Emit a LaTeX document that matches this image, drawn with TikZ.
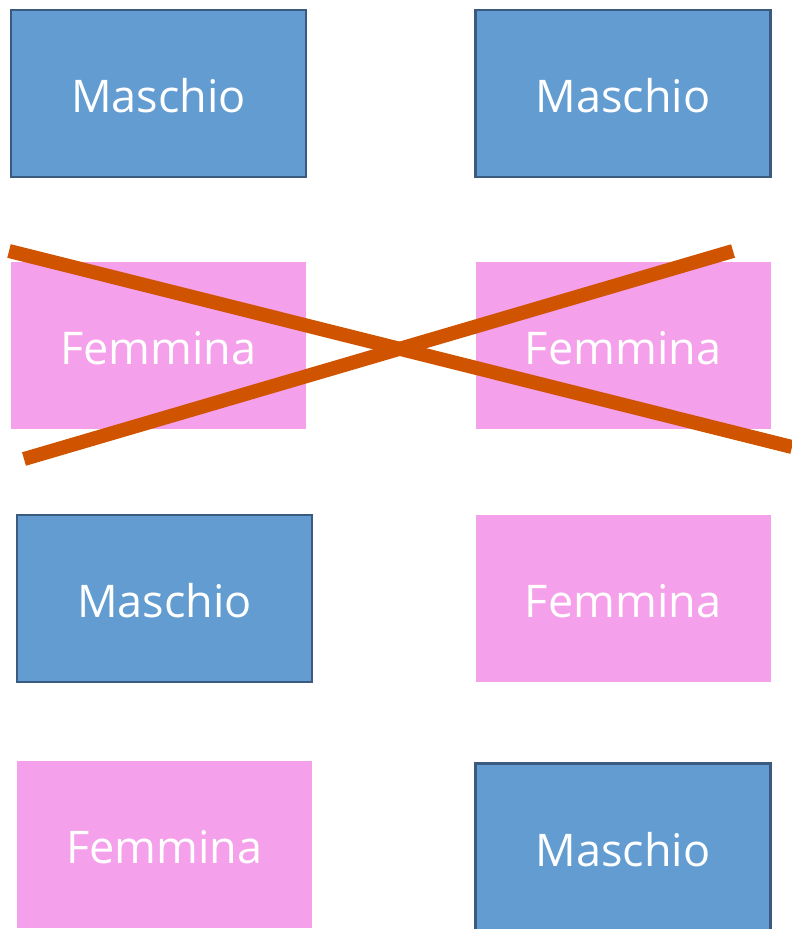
\documentclass[tikz,border=0pt]{standalone}
\usepackage{fontspec}
\setmainfont{Open Sans}
\usepackage{tikz}

\definecolor{boyfill}{HTML}{629CD1}
\definecolor{boyline}{HTML}{3A5A80}
\definecolor{girlfill}{HTML}{F5A0EB}
\definecolor{crossline}{HTML}{D05400}

\begin{document}
\begin{tikzpicture}[x=1pt,y=-1pt]
 \tikzstyle{card} = [minimum width=295pt,minimum height=167pt,inner sep=0pt,text height=42pt,text depth=4pt,text=white,font=\fontsize{45}{54}\selectfont]
 \tikzstyle{maschio} = [card,fill=boyfill,draw=boyline,line width=2.5pt]
 \tikzstyle{femmina} = [card,fill=girlfill]
 \tikzstyle{cancel} = [crossline,line width=14pt]

  \useasboundingbox (0,0) rectangle (792,929);

  % first pair
  \node[maschio] (m1) at (158.5,93.5) {Maschio};
  \node[maschio] (m2) at (623,93.5) {Maschio};

  % pair that is ruled out
  \node[femmina] (f1) at (158.5,345) {Femmina};
  \node[femmina] (f2) at (623,345) {Femmina};

  % mixed pairs
  \node[maschio] (m3) at (164.5,598.5) {Maschio};
  \node[femmina] (f3) at (623,598.5) {Femmina};
  \node[femmina] (f4) at (164.5,844.5) {Femmina};
  \node[maschio] (m4) at (623,847) {Maschio};

  % the cross
  \coordinate (x1) at (9,251);
  \coordinate (x2) at (792,447);
  \coordinate (x3) at (24,459);
  \coordinate (x4) at (733,251);
  \draw[cancel] (x1) -- (x2);
  \draw[cancel] (x3) -- (x4);

\end{tikzpicture}
\end{document}
